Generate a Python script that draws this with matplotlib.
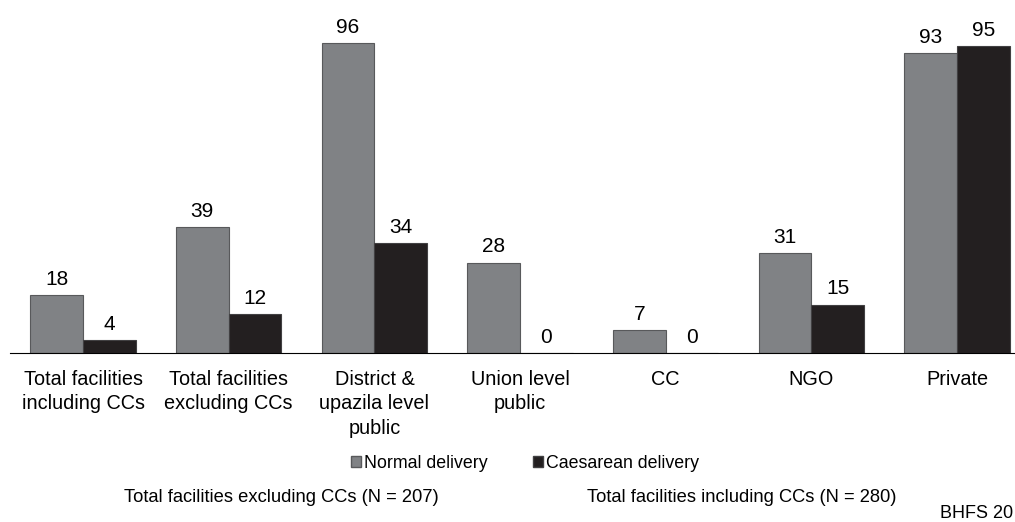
import matplotlib.pyplot as plt
import numpy as np
from matplotlib.patches import Patch

plt.rcParams['font.family'] = ['Liberation Sans', 'DejaVu Sans']

# data
categories = ['Total facilities\nincluding CCs', 'Total facilities\nexcluding CCs',
              'District &\nupazila level\npublic', 'Union level\npublic', 'CC', 'NGO', 'Private']
normal = [18, 39, 96, 28, 7, 31, 93]
caesarean = [4, 12, 34, 0, 0, 15, 95]

W, H = 1015, 522
fig = plt.figure(figsize=(W / 100, H / 100), dpi=100)

# axes: baseline at y=353px, 3.23 px per unit, axis runs past the right edge
left, width = 10.2 / W, 1019.7 / W
bottom = (H - 353) / H
height = 100 * 3.229 / H
ax = fig.add_axes([left, bottom, width, height])

x = np.arange(len(categories))
bw = 0.362
ax.bar(x - bw / 2, normal, bw, color='#808285', edgecolor='#58595b', linewidth=0.8)
ax.bar(x + bw / 2, caesarean, bw, color='#231f20', edgecolor='#414042', linewidth=0.8)

for i in range(len(categories)):
    ax.text(x[i] - bw / 2, normal[i] + 1.9, str(normal[i]), ha='center', va='bottom', fontsize=15)
    ax.text(x[i] + bw / 2, caesarean[i] + 1.9, str(caesarean[i]), ha='center', va='bottom', fontsize=15)

ax.set_xlim(-0.5, len(categories) - 0.5)
ax.set_ylim(0, 100)
for s in ['top', 'right', 'left']:
    ax.spines[s].set_visible(False)
ax.spines['bottom'].set_linewidth(0.8)
ax.set_yticks([])
ax.set_xticks(x)
ax.set_xticklabels(categories, fontsize=14.3, linespacing=1.34, va='top')
ax.tick_params(axis='x', length=0, pad=12.5)

# legend
handles = [Patch(facecolor='#808285', edgecolor='#58595b', label='Normal delivery'),
           Patch(facecolor='#231f20', edgecolor='#414042', label='Caesarean delivery')]
fig.legend(handles=handles, loc='center', bbox_to_anchor=(525 / W, 1 - 463 / H), ncol=2,
           frameon=False, fontsize=12.8, handlelength=0.58, handleheight=0.58,
           handletextpad=0.2, columnspacing=2.5)

fig.text(281 / W, 1 - 498 / H, 'Total facilities excluding CCs (N = 207)', ha='center', va='center', fontsize=13.2)
fig.text(742 / W, 1 - 498 / H, 'Total facilities including CCs (N = 280)', ha='center', va='center', fontsize=13.2)
# source note, cut at the right edge in the original
fig.text(940 / W, 1 - 513 / H, 'BHFS 20', ha='left', va='center', fontsize=13)

fig.savefig('out.png', dpi=100)
